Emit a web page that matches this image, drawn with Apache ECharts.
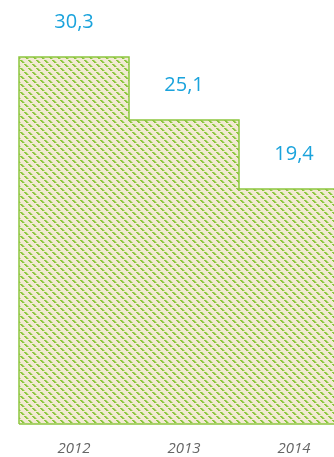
<!DOCTYPE html>
<html>
<head>
<meta charset="utf-8">
<script src="https://cdn.jsdelivr.net/npm/echarts@6/dist/echarts.min.js"></script>
<style>
  html, body { margin: 0; padding: 0; background: #fff; overflow: hidden; }
  #chart { width: 349px; height: 457px; }
</style>
</head>
<body>
<div id="chart"></div>
<script>
// Categories and values
const years = ['2012', '2013', '2014'];
const values = [30.3, 25.1, 19.4];

// Small repeating tile: beige ground with dashed diagonal green hatching
function hatchTile() {
  const size = 8;
  const c = document.createElement('canvas');
  c.width = size; c.height = size;
  const g = c.getContext('2d');
  g.fillStyle = '#f2ead3';
  g.fillRect(0, 0, size, size);
  for (let i = 0; i < size; i++) {
    if (i % 4 === 3) continue;
    g.fillStyle = '#8cc63e';
    g.fillRect(i, i, 1, 1);
    g.fillRect((i + 1) % size, i, 1, 1);
    g.fillStyle = '#bddc8a';
    g.fillRect((i + 2) % size, i, 1, 1);
  }
  return c;
}

const green = '#8dc63f';
const fmt = v => String(v).replace('.', ',');

const chart = echarts.init(document.getElementById('chart'), null, { renderer: 'canvas' });

chart.setOption({
  animation: false,
  grid: { left: 19, top: 0, right: 0, height: 424 },
  xAxis: {
    type: 'category',
    data: years,
    axisLine: { show: false },
    axisTick: { show: false },
    axisLabel: {
      margin: 17,
      fontSize: 15,
      fontStyle: 'italic',
      fontFamily: 'Open Sans',
      color: '#666666'
    }
  },
  yAxis: {
    type: 'value',
    min: 0,
    max: 35,
    show: false,
    splitLine: { show: false }
  },
  series: [
    {
      type: 'bar',
      data: values,
      barWidth: '100%',
      barCategoryGap: '0%',
      itemStyle: {
        color: { image: hatchTile(), repeat: 'repeat' },
        borderWidth: 0
      },
      label: {
        show: true,
        position: 'top',
        distance: 25,
        fontSize: 20,
        fontFamily: 'Open Sans',
        color: '#1aa3dc',
        formatter: p => fmt(p.value)
      }
    },
    {
      // Outer step outline around the bars
      type: 'custom',
      silent: true,
      z: 5,
      data: values.map((v, i) => [i, v]),
      encode: { x: 0, y: 1 },
      renderItem: (params, api) => {
        const i = params.dataIndex;
        const w = api.size([1, 0])[0];
        const top = api.coord([i, api.value(1)]);
        const baseY = api.coord([i, 0])[1];
        const L = top[0] - w / 2, R = top[0] + w / 2;
        const pts = [];
        if (i === 0) pts.push([L, baseY]);
        pts.push([L, top[1]], [R, top[1]]);
        if (i < values.length - 1) {
          pts.push([R, api.coord([i + 1, values[i + 1]])[1]]);
        } else {
          pts.push([R, baseY]);
        }
        return {
          type: 'group',
          children: [
            { type: 'polyline', shape: { points: pts }, style: { stroke: green, lineWidth: 1.5, fill: null } },
            { type: 'line', shape: { x1: L, y1: baseY, x2: R, y2: baseY }, style: { stroke: green, lineWidth: 1.5 } }
          ]
        };
      }
    }
  ]
});
</script>
</body>
</html>
